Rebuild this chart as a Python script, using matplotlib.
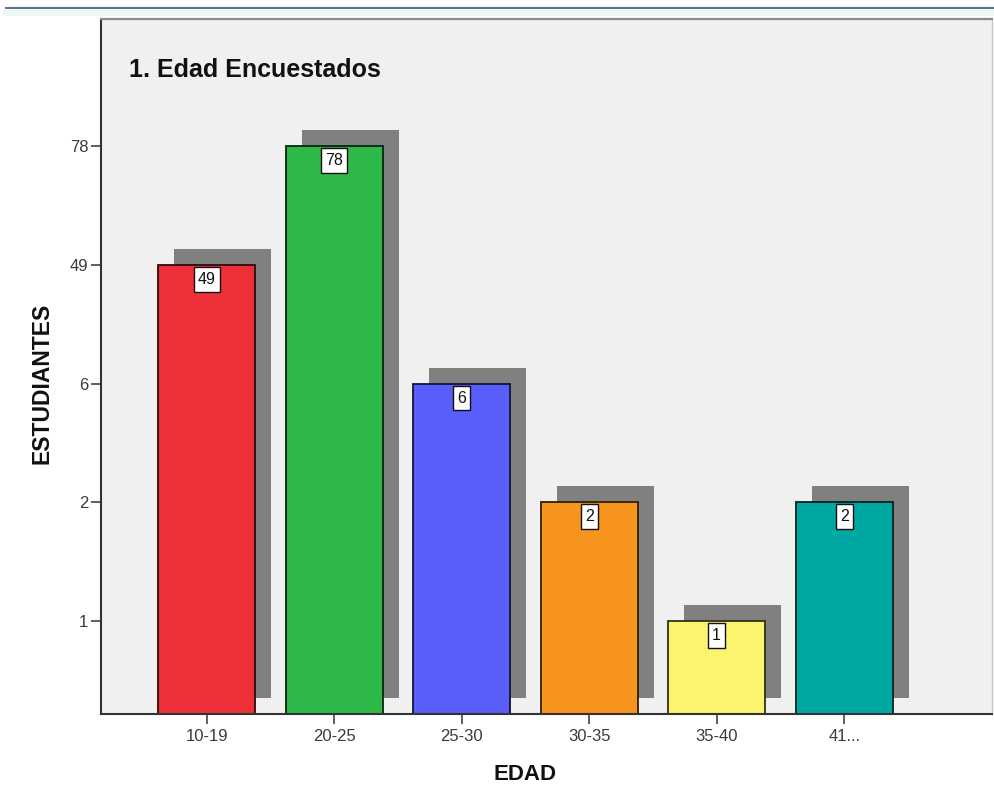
import matplotlib
matplotlib.use("Agg")
import matplotlib.pyplot as plt
import matplotlib.transforms as mtransforms
from matplotlib.lines import Line2D
from matplotlib.path import Path
import numpy as np

plt.rcParams['font.family'] = ['Liberation Sans', 'DejaVu Sans']

# ---- data ----
categories = ["10-19", "20-25", "25-30", "30-35", "35-40", "41..."]
values = [49, 78, 6, 2, 1, 2]
ytick_values = [1, 2, 6, 49, 78]          # ordinal y axis as in the original
bar_colors = ["#EE3038", "#2EB84A", "#5A5EFA", "#F7941E", "#FAF46F", "#00A8A2"]
title = "1. Edad Encuestados"
xlabel = "EDAD"
ylabel = "ESTUDIANTES"

# ordinal positions on the y scale
positions = [ytick_values.index(v) + 1 for v in values]
tick_pos = list(range(1, len(ytick_values) + 1))

W, H = 994, 805
fig = plt.figure(figsize=(W / 100, H / 100), dpi=100)
fig.patch.set_facecolor("white")

ax = fig.add_axes([101 / W, 1 - 714 / H, (992 - 101) / W, (714 - 19) / H])
ax.set_facecolor("#F0F0F0")

Y0 = 0.217
ax.set_ylim(Y0, 6.07)
ax.set_xlim(-0.83, 6.16)

x = np.arange(len(categories))
bw = 0.76

# shadow: same bars shifted 16 px right and 16 px up
shadow_tr = mtransforms.offset_copy(ax.transData, fig=fig, x=16, y=16, units='dots')
heights = [p - Y0 for p in positions]
ax.bar(x, heights, width=bw, bottom=Y0, color="#808080", edgecolor="none",
       transform=shadow_tr, zorder=1)

edge_cols = []
for c in bar_colors:
    rgb = np.array(matplotlib.colors.to_rgb(c))
    edge_cols.append(tuple(rgb * 0.2))
ax.bar(x, heights, width=bw, bottom=Y0, color=bar_colors, edgecolor=edge_cols,
       linewidth=1.3, zorder=2)


def tallbox(x0, y0, width, height, mutation_size):
    padx = 0.25 * mutation_size
    pady = 0.30 * mutation_size
    return Path([(x0 - padx, y0 - pady), (x0 + width + padx, y0 - pady),
                 (x0 + width + padx, y0 + height + pady), (x0 - padx, y0 + height + pady),
                 (x0 - padx, y0 - pady)], closed=True)


for xi, p, v in zip(x, positions, values):
    ax.annotate(str(v), xy=(xi, p), xytext=(0, -14.5), textcoords='offset pixels',
                ha='center', va='center', fontsize=11.5, color='#111111', zorder=4,
                bbox=dict(boxstyle=tallbox, fc='white', ec='#111111', lw=1))

ax.set_xticks(x)
ax.set_xticklabels(categories)
ax.set_yticks(tick_pos)
ax.set_yticklabels([str(v) for v in ytick_values])
ax.tick_params(axis='both', labelsize=12, colors='#333333', labelcolor='#3a3a3a',
               length=7.5, width=1.1, direction='out')
ax.tick_params(axis='y', pad=1.5)
ax.tick_params(axis='x', pad=3)

for s in ['left', 'bottom']:
    ax.spines[s].set_color('#333333')
    ax.spines[s].set_linewidth(1.5)
ax.spines['top'].set_color('#8a8a8a')
ax.spines['top'].set_linewidth(1.6)
ax.spines['right'].set_color('#c8c8c8')
ax.spines['right'].set_linewidth(1.0)

ax.set_xlabel(xlabel, fontsize=16, fontweight='bold', color='#111111')
ax.xaxis.set_label_coords((525 - 101) / 891, (714 - 774) / 695)
ax.xaxis.label.set_verticalalignment('center')
ax.set_ylabel(ylabel, fontsize=16.5, fontweight='bold', color='#111111')
ax.yaxis.set_label_coords((42 - 101) / 891, (714 - 383) / 695)
ax.yaxis.label.set_verticalalignment('center')

ax.text((129 - 101) / 891, (714 - 77) / 695, title, transform=ax.transAxes,
        fontsize=18, fontweight='bold', color='#111111', ha='left', va='baseline')

# window frame line at the top
fig.add_artist(Line2D([6 / W, 1], [1 - 13 / H, 1 - 13 / H], color='#eef6f8',
                      lw=4, transform=fig.transFigure))
fig.add_artist(Line2D([6 / W, 1], [1 - 8.5 / H, 1 - 8.5 / H], color='#5a7690',
                      lw=1.5, transform=fig.transFigure))

fig.savefig("out.png", dpi=100, facecolor=fig.get_facecolor())
